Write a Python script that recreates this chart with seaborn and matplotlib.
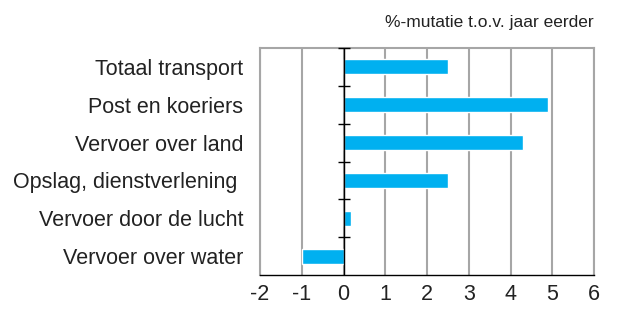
"""
plot.py
Horizontal bar chart: %-mutatie t.o.v. jaar eerder per transportbranche.
"""

import matplotlib
matplotlib.use('Agg')
import matplotlib.pyplot as plt
import seaborn as sns
import numpy as np

categories = ['Totaal transport', 'Post en koeriers', 'Vervoer over land',
              'Opslag, dienstverlening ', 'Vervoer door de lucht', 'Vervoer over water']
values = [2.5, 4.9, 4.3, 2.5, 0.18, -1.0]
x_ticks = [-2, -1, 0, 1, 2, 3, 4, 5, 6]
subtitle = '%-mutatie t.o.v. jaar eerder'

BAR_COLOR = '#00B0F0'
GRID_COLOR = '#A6A6A6'

sns.set_style('white')
plt.rcParams['font.family'] = ['Liberation Sans', 'DejaVu Sans']

fig = plt.figure(figsize=(6.22, 3.09), dpi=100)
ax = fig.add_axes([260 / 622, 1 - 275 / 309, (594 - 260) / 622, (275 - 48) / 309])

sns.barplot(x=values, y=categories, orient='h', color=BAR_COLOR,
            width=0.4, saturation=1, ax=ax)

ax.set_xlim(x_ticks[0], x_ticks[-1])
ax.set_ylim(len(categories) - 0.5, -0.5)
ax.set_xticks(x_ticks)
ax.set_xticklabels([str(t) for t in x_ticks], fontsize=15.5)
ax.set_yticks(range(len(categories)))
ax.set_yticklabels(categories, fontsize=15.5)
ax.set_xlabel('')
ax.set_ylabel('')

# vertical gridlines
ax.grid(axis='x', color=GRID_COLOR, linewidth=1.5)
ax.set_axisbelow(True)

for side in ['top', 'right', 'left']:
    ax.spines[side].set_color(GRID_COLOR)
    ax.spines[side].set_linewidth(1.5)
ax.spines['bottom'].set_color('black')
ax.spines['bottom'].set_linewidth(1.0)

ax.tick_params(axis='y', length=0, pad=12, colors='#222222')
ax.tick_params(axis='x', direction='inout', length=9, width=1.0,
               color='black', labelcolor='#222222', pad=2)

# zero axis with category separator ticks
ax.axvline(0, color='black', linewidth=1.0, zorder=1.5)
zero_loc = (0 - x_ticks[0]) / (x_ticks[-1] - x_ticks[0])
sec = ax.secondary_yaxis(zero_loc)
sec.set_zorder(5)
sec.set_yticks(np.arange(len(categories)) - 0.5)
sec.set_yticklabels([])
for sp in sec.spines.values():
    sp.set_visible(False)
sec.tick_params(axis='y', direction='inout', length=9, width=1.0, color='black')

fig.text(594 / 622, 1 - 22 / 309, subtitle, ha='right', va='center',
         fontsize=12.5, color='#222222')

fig.savefig('out.png', dpi=100)
